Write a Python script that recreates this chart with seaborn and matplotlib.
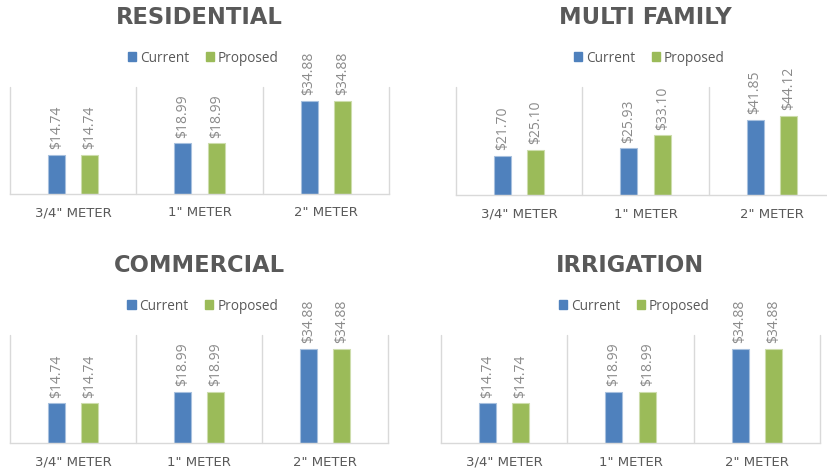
import matplotlib
matplotlib.use("Agg")
import matplotlib.pyplot as plt
import seaborn as sns
import pandas as pd

# ---- data ----
meters = ['3/4" METER', '1" METER', '2" METER']
series = ["Current", "Proposed"]
titles = ["RESIDENTIAL", "MULTI FAMILY", "COMMERCIAL", "IRRIGATION"]
residential_current = [14.74, 18.99, 34.88]
residential_proposed = [14.74, 18.99, 34.88]
multi_current = [21.70, 25.93, 41.85]
multi_proposed = [25.10, 33.10, 44.12]
commercial_current = [14.74, 18.99, 34.88]
commercial_proposed = [14.74, 18.99, 34.88]
irrigation_current = [14.74, 18.99, 34.88]
irrigation_proposed = [14.74, 18.99, 34.88]
ylims = [40, 60, 40, 40]

panels = [
    (residential_current, residential_proposed),
    (multi_current, multi_proposed),
    (commercial_current, commercial_proposed),
    (irrigation_current, irrigation_proposed),
]

colors = {"Current": "#4F81BD", "Proposed": "#9BBB59"}
edge = {"Current": "#A7C0DE", "Proposed": "#CDDDAC"}

sns.set_theme(style="white")
plt.rcParams["font.family"] = ["Open Sans", "DejaVu Sans"]

W, H = 827, 471
fig = plt.figure(figsize=(W / 100, H / 100), dpi=100)

# axes boxes in pixels: left, top, right, baseline
boxes = [
    (10, 87, 389, 194),
    (456, 87, 835, 195),
    (10, 335, 388, 443),
    (441, 335, 820, 443),
]

for (cur, prop), title, ylim, (l, t, r, b) in zip(panels, titles, ylims, boxes):
    ax = fig.add_axes([l / W, (H - b) / H, (r - l) / W, (b - t) / H])
    df = pd.DataFrame({
        "meter": meters * 2,
        "series": ["Current"] * 3 + ["Proposed"] * 3,
        "value": list(cur) + list(prop),
    })
    sns.barplot(data=df, x="meter", y="value", hue="series", order=meters,
                hue_order=series, palette=colors, width=0.53, gap=0.49,
                ax=ax, legend=False, saturation=1)
    for cont, s in zip(ax.containers, series):
        for p in cont:
            p.set_edgecolor(edge[s])
            p.set_linewidth(0.8)
        lbls = ax.bar_label(cont, labels=[f"${v:.2f}" for v in cont.datavalues],
                            rotation=90, padding=4, fontsize=10, color="#8A8A8A")
        for tx in lbls:
            tx.set_clip_on(False)
    ax.set_xlim(-0.5, 2.5)
    ax.set_ylim(0, ylim)
    ax.set_yticks([])
    ax.set_xlabel("")
    ax.set_ylabel("")
    for sp in ["top", "left", "right"]:
        ax.spines[sp].set_visible(False)
    ax.spines["bottom"].set_color("#D9D9D9")
    ax.spines["bottom"].set_linewidth(1)
    for xv in [-0.5, 0.5, 1.5, 2.5]:
        ax.axvline(xv, color="#D9D9D9", lw=1, zorder=0, clip_on=False)
    ax.tick_params(axis="x", length=0, pad=9, labelcolor="#595959")
    for tl in ax.get_xticklabels():
        tl.set_fontfamily("DejaVu Sans")
        tl.set_fontsize(9.5)
    h = b - t
    ax.text(0.5, (b - (t - 69)) / h, title, transform=ax.transAxes,
            ha="center", va="center", fontsize=16.3, fontweight="bold",
            color="#595959", family="DejaVu Sans")
    handles = [plt.Rectangle((0, 0), 1, 1, color=colors[s]) for s in series]
    ax.legend(handles, series, loc="center", bbox_to_anchor=(0.51, (b - (t - 29)) / h),
              ncol=2, frameon=False, fontsize=9.8, handlelength=0.6, handleheight=0.6,
              handletextpad=0.3, columnspacing=1.2, labelcolor="#595959",
              borderaxespad=0)

fig.savefig("out.png", dpi=100)
